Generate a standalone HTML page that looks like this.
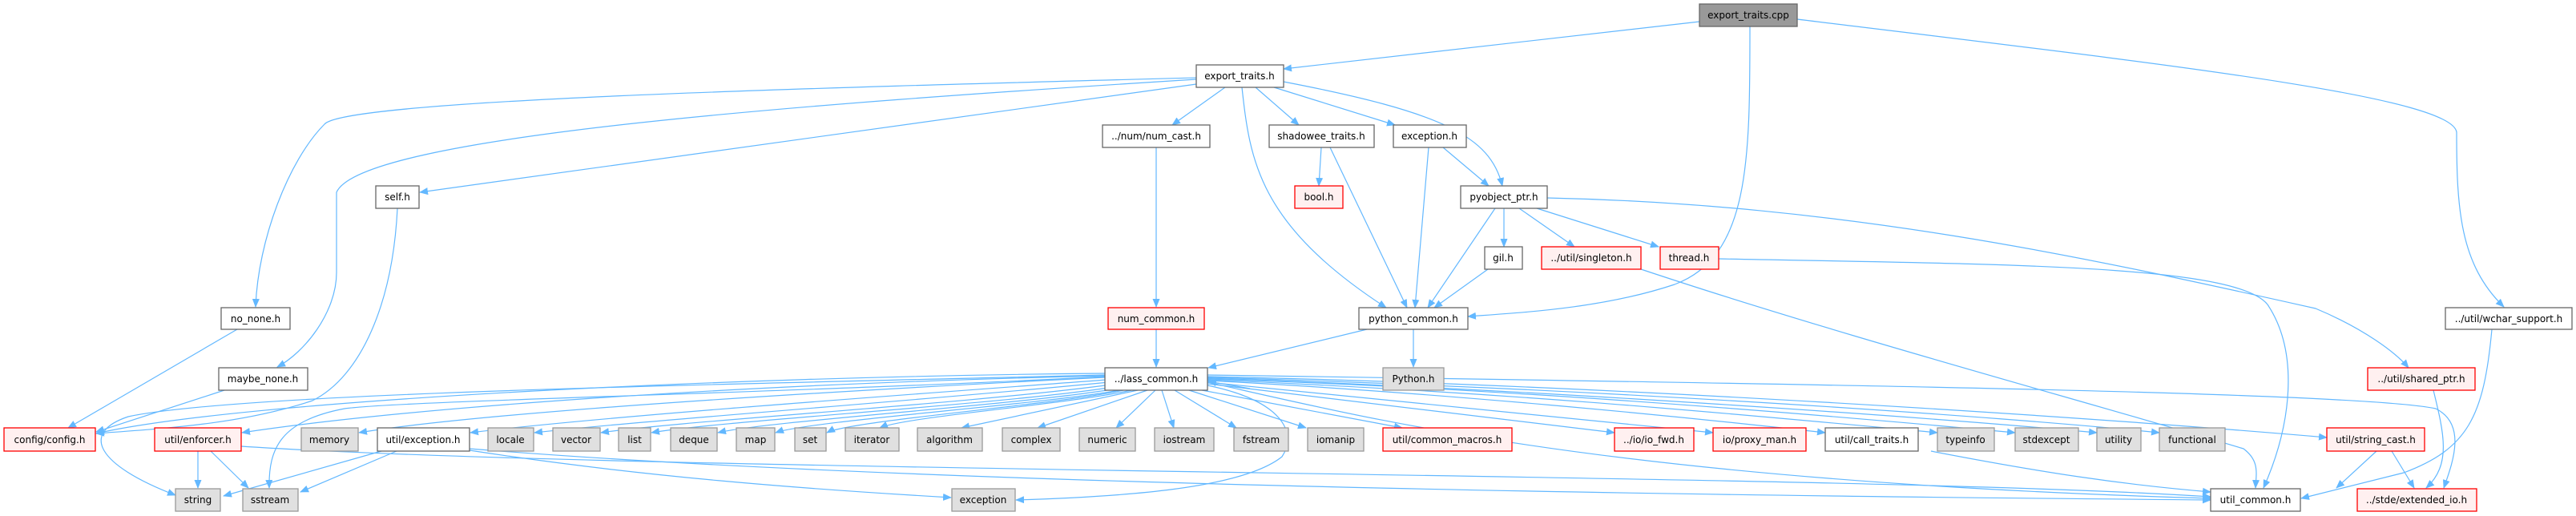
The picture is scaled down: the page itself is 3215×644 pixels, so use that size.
<!DOCTYPE html>
<html><head><meta charset="utf-8"><style>
html,body{margin:0;padding:0;background:#fff;}
svg{display:block;}
text{font-family:"DejaVu Sans","Liberation Sans",sans-serif;font-size:12px;fill:#000;text-anchor:middle;}
.w{fill:#fff;stroke:#666;stroke-width:1.3}
.r{fill:#fff0f0;stroke:#ff0000;stroke-width:1.3}
.g{fill:#e0e0e0;stroke:#999;stroke-width:1.3}
.d{fill:#999;stroke:#666;stroke-width:1.3}
path.e{fill:none;stroke:#63b8ff;stroke-width:1.2;marker-end:url(#a)}
</style></head><body>
<svg width="3215" height="644" viewBox="0 0 3215 644" xmlns="http://www.w3.org/2000/svg">
<defs><marker id="a" markerUnits="userSpaceOnUse" markerWidth="11" markerHeight="9" refX="10" refY="4.5" orient="auto"><path d="M0,0 L11,4.5 L0,9 z" fill="#63b8ff"/></marker></defs>

<!-- edges -->
<path class="e" d="M2121,27 L1602,86"/>
<path class="e" d="M2184,33 C2184,200 2184,320 2090,355 C2000,385 1900,390 1832,395"/>
<path class="e" d="M2243,24 C2700,80 3060,120 3066,165 C3066,260 3070,330 3125,383"/>
<path class="e" d="M1493,97 C1000,110 430,125 405,155 C360,200 322,300 319,383"/>
<path class="e" d="M1493,99 C1000,130 450,170 420,240 L420,340 C420,390 380,440 346,458"/>
<path class="e" d="M1493,105 L524,240"/>
<path class="e" d="M1529,109 L1463,156"/>
<path class="e" d="M1550,109 C1560,200 1570,280 1730,384"/>
<path class="e" d="M1567,109 L1621,156"/>
<path class="e" d="M1590,109 L1741,156"/>
<path class="e" d="M1602,102 C1800,140 1860,170 1875,232"/>
<path class="e" d="M1649,184 L1646,232"/>
<path class="e" d="M1660,184 L1756,384"/>
<path class="e" d="M1783,184 L1766,384"/>
<path class="e" d="M1801,184 L1858,232"/>
<path class="e" d="M1877,260 L1877,308"/>
<path class="e" d="M1896,260 L1965,308"/>
<path class="e" d="M1918,260 L2070,308"/>
<path class="e" d="M1866,260 L1782,384"/>
<path class="e" d="M1931,247 C2300,255 2600,320 2890,385 C2950,410 2990,440 3006,459"/>
<path class="e" d="M1857,336 L1790,384"/>
<path class="e" d="M2048,336 C2300,420 2600,500 2800,560 C2820,575 2816,590 2815,609"/>
<path class="e" d="M2145,323 C2500,330 2790,330 2830,380 C2870,440 2860,530 2825,609"/>
<path class="e" d="M1443,184 L1443,383"/>
<path class="e" d="M1443,411 L1443,458"/>
<path class="e" d="M1764,411 L1764,458"/>
<path class="e" d="M1706,411 L1508,459"/>
<path class="e" d="M496,260 C490,380 450,470 390,500 C300,530 200,535 120,541"/>
<path class="e" d="M296,411 L85,534"/>
<path class="e" d="M280,487 L120,539"/>
<path class="e" d="M3110,411 C3100,520 3080,560 3000,590 L2872,622"/>
<path class="e" d="M3037,487 C3050,540 3060,580 3028,609"/>
<path class="e" d="M2966,563 L2916,609"/>
<path class="e" d="M2985,563 L3013,609"/>
<path class="e" d="M2410,563 C2550,590 2650,605 2759,614"/>
<!-- enforcer / util/exception -->
<path class="e" d="M247,563 L247,609"/>
<path class="e" d="M263,563 L310,609"/>
<path class="e" d="M301,557 C800,590 2300,590 2759,620"/>
<path class="e" d="M476,563 L279,619"/>
<path class="e" d="M495,563 L375,614"/>
<path class="e" d="M586,562 C800,595 1000,610 1187,621"/>
<path class="e" d="M586,560 C1200,610 2300,620 2759,624"/>
<!-- lass fan -->
<path class="e" d="M1379,466 C900,470 300,500 120,541"/>
<path class="e" d="M1379,469 C900,480 500,510 302,540"/>
<path class="e" d="M1379,471 C1000,490 600,515 448,540"/>
<path class="e" d="M1381,474 C1100,495 750,520 587,540"/>
<path class="e" d="M1384,477 C1150,500 800,525 667,540"/>
<path class="e" d="M1387,480 C1200,505 850,525 750,540"/>
<path class="e" d="M1390,483 C1250,505 900,525 813,540"/>
<path class="e" d="M1393,485 C1280,505 960,525 896,540"/>
<path class="e" d="M1397,487 C1300,505 1010,525 968,540"/>
<path class="e" d="M1402,487 C1320,505 1060,525 1032,540"/>
<path class="e" d="M1412,487 C1330,505 1130,520 1098,534"/>
<path class="e" d="M1420,487 L1200,534"/>
<path class="e" d="M1432,487 L1295,534"/>
<path class="e" d="M1442,487 L1393,534"/>
<path class="e" d="M1450,487 L1465,534"/>
<path class="e" d="M1466,487 L1543,534"/>
<path class="e" d="M1484,487 L1630,534"/>
<path class="e" d="M1500,487 L1750,534"/>
<path class="e" d="M1507,479 L2015,540"/>
<path class="e" d="M1507,477 L2138,540"/>
<path class="e" d="M1507,475 C1800,490 2100,520 2278,540"/>
<path class="e" d="M1507,474 C1900,490 2200,520 2418,540"/>
<path class="e" d="M1507,473 C1900,485 2300,520 2515,540"/>
<path class="e" d="M1507,472 C1900,485 2400,520 2617,540"/>
<path class="e" d="M1507,471 C2000,485 2500,520 2695,540"/>
<path class="e" d="M1507,470 C2000,480 2600,520 2904,546"/>
<path class="e" d="M1507,468 C2300,480 2950,490 3040,510 C3080,530 3060,580 3050,609"/>
<path class="e" d="M1507,477 C1700,520 2000,600 2759,622"/>
<path class="e" d="M1507,481 C1600,500 1620,540 1600,570 C1550,610 1400,620 1268,624"/>
<path class="e" d="M1379,468 C900,480 300,490 160,520 C100,540 120,580 219,618"/>
<path class="e" d="M1379,470 C1000,490 500,500 430,510 C350,525 335,560 336,609"/>
<path class="e" d="M1560,485 L1508,476"/>

<!-- nodes -->
<g>
<rect class="d" x="2121" y="5" width="122" height="28"/><text x="2182" y="23">export_traits.cpp</text>
<rect class="w" x="1493" y="81" width="109" height="28"/><text x="1547" y="99">export_traits.h</text>
<rect class="w" x="1376" y="156" width="134" height="28"/><text x="1443" y="174">../num/num_cast.h</text>
<rect class="w" x="1584" y="156" width="131" height="28"/><text x="1649" y="174">shadowee_traits.h</text>
<rect class="w" x="1739" y="156" width="91" height="28"/><text x="1784" y="174">exception.h</text>
<rect class="w" x="469" y="232" width="54" height="28"/><text x="496" y="250">self.h</text>
<rect class="r" x="1616" y="232" width="60" height="28"/><text x="1646" y="250">bool.h</text>
<rect class="w" x="1823" y="232" width="108" height="28"/><text x="1877" y="250">pyobject_ptr.h</text>
<rect class="w" x="1853" y="308" width="47" height="28"/><text x="1876" y="326">gil.h</text>
<rect class="r" x="1924" y="308" width="124" height="28"/><text x="1986" y="326">../util/singleton.h</text>
<rect class="r" x="2072" y="308" width="73" height="28"/><text x="2108" y="326">thread.h</text>
<rect class="w" x="276" y="384" width="86" height="27"/><text x="319" y="402">no_none.h</text>
<rect class="r" x="1383" y="384" width="120" height="27"/><text x="1443" y="402">num_common.h</text>
<rect class="w" x="1696" y="384" width="136" height="27"/><text x="1764" y="402">python_common.h</text>
<rect class="w" x="3052" y="384" width="158" height="27"/><text x="3131" y="402">../util/wchar_support.h</text>
<rect class="w" x="273" y="459" width="111" height="28"/><text x="328" y="477">maybe_none.h</text>
<rect class="w" x="1379" y="459" width="128" height="28"/><text x="1443" y="477">../lass_common.h</text>
<rect class="g" x="1726" y="459" width="76" height="28"/><text x="1764" y="477">Python.h</text>
<rect class="r" x="2955" y="459" width="134" height="28"/><text x="3022" y="477">../util/shared_ptr.h</text>
</g>
<g>
<rect class="r" x="5" y="534" width="114" height="29"/><text x="62" y="553">config/config.h</text>
<rect class="r" x="193" y="534" width="108" height="29"/><text x="247" y="553">util/enforcer.h</text>
<rect class="g" x="376" y="534" width="71" height="29"/><text x="411" y="553">memory</text>
<rect class="w" x="471" y="534" width="115" height="29"/><text x="528" y="553">util/exception.h</text>
<rect class="g" x="609" y="534" width="57" height="29"/><text x="637" y="553">locale</text>
<rect class="g" x="690" y="534" width="59" height="29"/><text x="719" y="553">vector</text>
<rect class="g" x="772" y="534" width="40" height="29"/><text x="792" y="553">list</text>
<rect class="g" x="837" y="534" width="58" height="29"/><text x="866" y="553">deque</text>
<rect class="g" x="919" y="534" width="48" height="29"/><text x="943" y="553">map</text>
<rect class="g" x="992" y="534" width="39" height="29"/><text x="1011" y="553">set</text>
<rect class="g" x="1055" y="534" width="67" height="29"/><text x="1088" y="553">iterator</text>
<rect class="g" x="1145" y="534" width="81" height="29"/><text x="1185" y="553">algorithm</text>
<rect class="g" x="1251" y="534" width="72" height="29"/><text x="1287" y="553">complex</text>
<rect class="g" x="1347" y="534" width="70" height="29"/><text x="1382" y="553">numeric</text>
<rect class="g" x="1441" y="534" width="74" height="29"/><text x="1478" y="553">iostream</text>
<rect class="g" x="1540" y="534" width="68" height="29"/><text x="1574" y="553">fstream</text>
<rect class="g" x="1632" y="534" width="70" height="29"/><text x="1667" y="553">iomanip</text>
<rect class="r" x="1726" y="534" width="161" height="29"/><text x="1806" y="553">util/common_macros.h</text>
<rect class="r" x="2015" y="534" width="99" height="29"/><text x="2064" y="553">../io/io_fwd.h</text>
<rect class="r" x="2138" y="534" width="116" height="29"/><text x="2196" y="553">io/proxy_man.h</text>
<rect class="w" x="2278" y="534" width="116" height="29"/><text x="2336" y="553">util/call_traits.h</text>
<rect class="g" x="2418" y="534" width="71" height="29"/><text x="2453" y="553">typeinfo</text>
<rect class="g" x="2515" y="534" width="79" height="29"/><text x="2554" y="553">stdexcept</text>
<rect class="g" x="2617" y="534" width="55" height="29"/><text x="2644" y="553">utility</text>
<rect class="g" x="2695" y="534" width="82" height="29"/><text x="2736" y="553">functional</text>
<rect class="r" x="2904" y="534" width="122" height="29"/><text x="2965" y="553">util/string_cast.h</text>
<rect class="g" x="219" y="610" width="56" height="28"/><text x="247" y="628">string</text>
<rect class="g" x="303" y="610" width="69" height="28"/><text x="337" y="628">sstream</text>
<rect class="g" x="1188" y="610" width="79" height="28"/><text x="1227" y="628">exception</text>
<rect class="w" x="2759" y="610" width="112" height="28"/><text x="2815" y="628">util_common.h</text>
<rect class="r" x="2942" y="610" width="149" height="28"/><text x="3016" y="628">../stde/extended_io.h</text>
</g>
</svg>
</body></html>
